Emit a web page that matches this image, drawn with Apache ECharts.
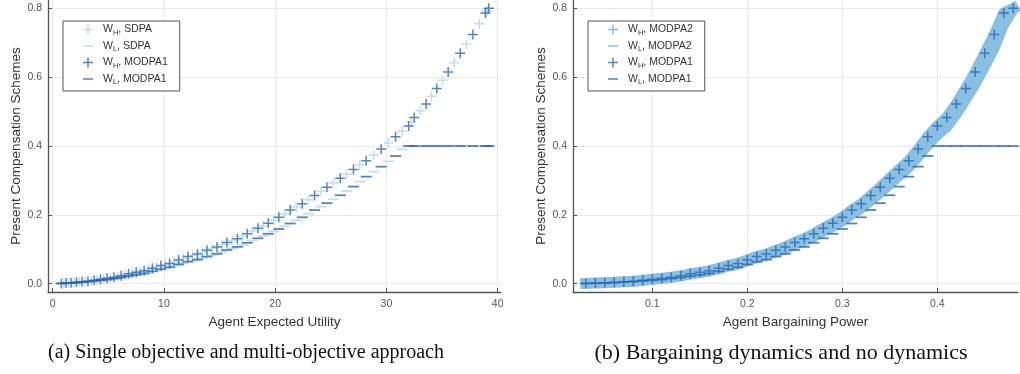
<!DOCTYPE html>
<html>
<head>
<meta charset="utf-8">
<script src="https://cdn.jsdelivr.net/npm/echarts@6/dist/echarts.min.js"></script>
<style>
  html, body { margin: 0; padding: 0; background: #ffffff; }
  #chart { width: 1020px; height: 374px; }
</style>
</head>
<body>
<div id="chart"></div>
<script>
// Bargaining power grid shared by the multi-objective runs
const bargainingPower = [
  0.03, 0.04, 0.05, 0.06, 0.07, 0.08, 0.09, 0.10, 0.11, 0.12,
  0.13, 0.14, 0.15, 0.16, 0.17, 0.18, 0.19, 0.20, 0.21, 0.22,
  0.23, 0.24, 0.25, 0.26, 0.27, 0.28, 0.29, 0.30, 0.31, 0.32,
  0.33, 0.34, 0.35, 0.36, 0.37, 0.38, 0.39, 0.40, 0.41, 0.42,
  0.43, 0.44, 0.45, 0.46, 0.47, 0.48
];
// Agent expected utility reached at each bargaining power (MODPA1)
const expectedUtility = [
  0.78, 1.21, 1.66, 2.14, 2.64, 3.17, 3.72, 4.29, 4.89, 5.51,
  6.15, 6.82, 7.51, 8.22, 8.96, 9.72, 10.51, 11.32, 12.15, 13.01,
  13.87, 14.77, 15.66, 16.60, 17.49, 18.45, 19.38, 20.33, 21.35, 22.43,
  23.54, 24.65, 25.85, 27.04, 28.18, 29.53, 30.82, 32.00, 32.50, 33.57,
  34.53, 35.55, 36.63, 37.77, 38.90, 39.20
];
// MODPA1 compensation schemes
const wHighModpa1 = [
  0.001, 0.002, 0.003, 0.004, 0.006, 0.007, 0.010, 0.013, 0.016, 0.019,
  0.023, 0.029, 0.033, 0.038, 0.045, 0.053, 0.059, 0.069, 0.079, 0.086,
  0.097, 0.107, 0.120, 0.131, 0.145, 0.161, 0.176, 0.193, 0.214, 0.232,
  0.256, 0.280, 0.306, 0.332, 0.357, 0.391, 0.427, 0.458, 0.483, 0.522,
  0.567, 0.615, 0.669, 0.724, 0.786, 0.800
];
const wLowModpa1 = [
  0.001, 0.0015, 0.002, 0.003, 0.005, 0.006, 0.008, 0.010, 0.012, 0.015,
  0.018, 0.022, 0.026, 0.030, 0.036, 0.042, 0.048, 0.056, 0.064, 0.070,
  0.079, 0.087, 0.098, 0.107, 0.119, 0.132, 0.145, 0.159, 0.175, 0.193,
  0.214, 0.234, 0.257, 0.282, 0.311, 0.340, 0.371, 0.400, 0.400, 0.400,
  0.400, 0.400, 0.400, 0.400, 0.400, 0.400
];
// SDPA compensation schemes against agent expected utility
const utilitySdpa = [
  1.00, 1.44, 1.90, 2.39, 2.90, 3.45, 4.00, 4.59, 5.20, 5.83,
  6.49, 7.17, 7.87, 8.59, 9.34, 10.12, 10.92, 11.74, 12.58, 13.44,
  14.32, 15.22, 16.13, 17.05, 17.97, 18.92, 19.86, 20.84, 21.89, 22.99,
  24.10, 25.25, 26.45, 27.61, 28.86, 30.18, 31.41, 32.25, 33.04, 34.05,
  35.04, 36.09, 37.20, 38.34, 39.05
];
const wHighSdpa = [
  0.0015, 0.0025, 0.0035, 0.005, 0.0065, 0.0085, 0.0115, 0.0145, 0.0175, 0.021,
  0.026, 0.031, 0.0355, 0.0415, 0.049, 0.056, 0.064, 0.074, 0.0825, 0.0915,
  0.102, 0.1135, 0.1255, 0.138, 0.153, 0.1685, 0.1845, 0.2035, 0.223, 0.244,
  0.268, 0.293, 0.319, 0.3445, 0.374, 0.409, 0.4425, 0.470, 0.5025, 0.5445,
  0.591, 0.642, 0.6965, 0.755, 0.793
];
const wLowSdpa = [
  0.0012, 0.0018, 0.0025, 0.004, 0.0055, 0.007, 0.009, 0.011, 0.0135, 0.0165,
  0.020, 0.024, 0.028, 0.033, 0.039, 0.045, 0.052, 0.060, 0.067, 0.0745,
  0.083, 0.0925, 0.1025, 0.113, 0.1255, 0.1385, 0.152, 0.167, 0.184, 0.2035,
  0.224, 0.2455, 0.2695, 0.2965, 0.3255, 0.3555, 0.390, 0.400, 0.400, 0.400,
  0.400, 0.400, 0.400, 0.400, 0.400
];
// MODPA2 compensation schemes (bargaining dynamics)
const wHighModpa2 = [
  0.001, 0.002, 0.003, 0.004, 0.006, 0.007, 0.010, 0.013, 0.016, 0.019,
  0.023, 0.029, 0.033, 0.038, 0.045, 0.053, 0.059, 0.069, 0.079, 0.086,
  0.097, 0.107, 0.120, 0.131, 0.145, 0.161, 0.176, 0.193, 0.214, 0.232,
  0.256, 0.280, 0.306, 0.332, 0.357, 0.391, 0.427, 0.458, 0.483, 0.522,
  0.567, 0.615, 0.669, 0.724, 0.786, 0.800
];
const wLowModpa2 = [
  0.001, 0.002, 0.003, 0.004, 0.005, 0.0065, 0.0095, 0.012, 0.015, 0.018,
  0.022, 0.027, 0.031, 0.036, 0.042, 0.050, 0.055, 0.065, 0.074, 0.081,
  0.091, 0.100, 0.113, 0.123, 0.136, 0.151, 0.165, 0.181, 0.201, 0.218,
  0.240, 0.263, 0.288, 0.312, 0.336, 0.368, 0.401, 0.431, 0.454, 0.491,
  0.533, 0.578, 0.629, 0.681, 0.750, 0.795
];

const captionLeft = '(a) Single objective and multi-objective approach';
const captionRight = '(b) Bargaining dynamics and no dynamics';

const DARK = '#2a66ad';
const LIGHT = 'rgba(140,190,225,0.65)';
const BAND = '#89bfe2';
const PLUS = 'path://M4.25,0H5.75V4.25H10V5.75H5.75V10H4.25V5.75H0V4.25H4.25Z';
const MINUS_ICON = 'path://M0,0M10,10M0,4.25H10V5.75H0Z';
const PLUS_ICON = PLUS;

function pairs(xs, ys) { return xs.map((x, i) => [x, ys[i]]); }

const SANS = '"Liberation Sans", Helvetica, Arial, sans-serif';
const SERIF = '"Liberation Serif", "Times New Roman", serif';

function valueAxis(gridIndex, min, max, name, isX, fmt) {
  return {
    type: 'value', gridIndex, min, max, splitNumber: 4,
    name, nameLocation: 'middle',
    nameGap: isX ? 16 : 25,
    nameTextStyle: { fontFamily: SANS, fontSize: 13.5, color: '#333' },
    axisLine: { show: true, onZero: false, lineStyle: { color: '#555', width: 1.3 } },
    axisTick: { show: true, inside: true, length: 4, lineStyle: { color: '#555', width: 1 } },
    axisLabel: {
      fontFamily: SANS, fontSize: 10.5, color: '#555', margin: isX ? 7 : 6,
      showMinLabel: false, showMaxLabel: false, formatter: fmt
    },
    splitLine: { show: true, showMinLine: false, showMaxLine: false,
      lineStyle: { color: '#e9e9e9', width: 1 } }
  };
}

function legendFor(left, names) {
  return {
    left, top: 21, orient: 'vertical',
    borderColor: '#555', borderWidth: 1, borderRadius: 0,
    backgroundColor: '#fff',
    padding: [3, 12, 5, 20],
    itemWidth: 10, itemHeight: 10, itemGap: 4,
    selectedMode: false,
    textStyle: {
      fontFamily: SANS, fontSize: 10.5, color: '#333', padding: [0, 0, 0, 5],
      rich: { sub: { fontFamily: SANS, fontSize: 7.5, color: '#333', padding: [6, 0, 0, 0] } }
    },
    formatter: n => n.replace(/W_([HL])/, 'W{sub|$1}'),
    data: names.map(n => ({ name: n, icon: n.startsWith('W_H') ? PLUS_ICON : MINUS_ICON }))
  };
}

const chart = echarts.init(document.getElementById('chart'), null, { renderer: 'canvas' });

chart.setOption({
  animation: false,
  backgroundColor: '#ffffff',
  grid: [
    { left: 48, top: 0, width: 453, height: 292 },
    { left: 573, top: 0, width: 445, height: 292 }
  ],
  xAxis: [
    valueAxis(0, -0.42, 40.3, 'Agent Expected Utility', true, v => String(v)),
    valueAxis(1, 0.0165, 0.485, 'Agent Bargaining Power', true, v => v.toFixed(1))
  ],
  yAxis: [
    valueAxis(0, -0.024, 0.824, 'Present Compensation Schemes', false, v => v.toFixed(1)),
    valueAxis(1, -0.024, 0.824, 'Present Compensation Schemes', false, v => v.toFixed(1))
  ],
  legend: [
    legendFor(63, ['W_H, SDPA', 'W_L, SDPA', 'W_H, MODPA1', 'W_L, MODPA1']),
    legendFor(588, ['W_H, MODPA2', 'W_L, MODPA2', 'W_H, MODPA1', 'W_L, MODPA1'])
  ],
  series: [
    { name: 'W_H, SDPA', type: 'scatter', xAxisIndex: 0, yAxisIndex: 0,
      symbol: PLUS, symbolSize: 10, itemStyle: { color: LIGHT },
      data: pairs(utilitySdpa, wHighSdpa) },
    { name: 'W_L, SDPA', type: 'scatter', xAxisIndex: 0, yAxisIndex: 0,
      symbol: 'rect', symbolSize: [11, 1.8], itemStyle: { color: LIGHT },
      data: pairs(utilitySdpa, wLowSdpa) },
    { name: 'W_H, MODPA1', type: 'scatter', xAxisIndex: 0, yAxisIndex: 0,
      symbol: PLUS, symbolSize: 10, itemStyle: { color: DARK },
      data: pairs(expectedUtility, wHighModpa1) },
    { name: 'W_L, MODPA1', type: 'scatter', xAxisIndex: 0, yAxisIndex: 0,
      symbol: 'rect', symbolSize: [11, 1.8], itemStyle: { color: DARK },
      data: pairs(expectedUtility, wLowModpa1) },

    { name: 'W_L, MODPA2', type: 'line', xAxisIndex: 1, yAxisIndex: 1, z: 1,
      symbol: 'none', showSymbol: false, itemStyle: { color: BAND },
      lineStyle: { color: BAND, width: 10, cap: 'square', join: 'round' },
      data: pairs(bargainingPower, wLowModpa2) },
    { name: 'W_H, MODPA2', type: 'line', xAxisIndex: 1, yAxisIndex: 1, z: 1,
      symbol: 'none', showSymbol: false, itemStyle: { color: BAND },
      lineStyle: { color: BAND, width: 11, cap: 'square', join: 'round' },
      data: pairs(bargainingPower, wHighModpa2) },
    { name: 'W_H, MODPA1', type: 'scatter', xAxisIndex: 1, yAxisIndex: 1, z: 3,
      symbol: PLUS, symbolSize: 10, itemStyle: { color: DARK },
      data: pairs(bargainingPower, wHighModpa1) },
    { name: 'W_L, MODPA1', type: 'scatter', xAxisIndex: 1, yAxisIndex: 1, z: 3,
      symbol: 'rect', symbolSize: [11, 1.8], itemStyle: { color: DARK },
      data: pairs(bargainingPower, wLowModpa1) }
  ],
  graphic: [
    { type: 'text',
      style: { text: captionLeft, x: 246, y: 353, align: 'center', verticalAlign: 'middle',
        font: '20px ' + SERIF, fill: '#111' } },
    { type: 'text',
      style: { text: captionRight, x: 781, y: 353, align: 'center', verticalAlign: 'middle',
        font: '22px ' + SERIF, fill: '#111' } }
  ]
});
</script>
</body>
</html>
